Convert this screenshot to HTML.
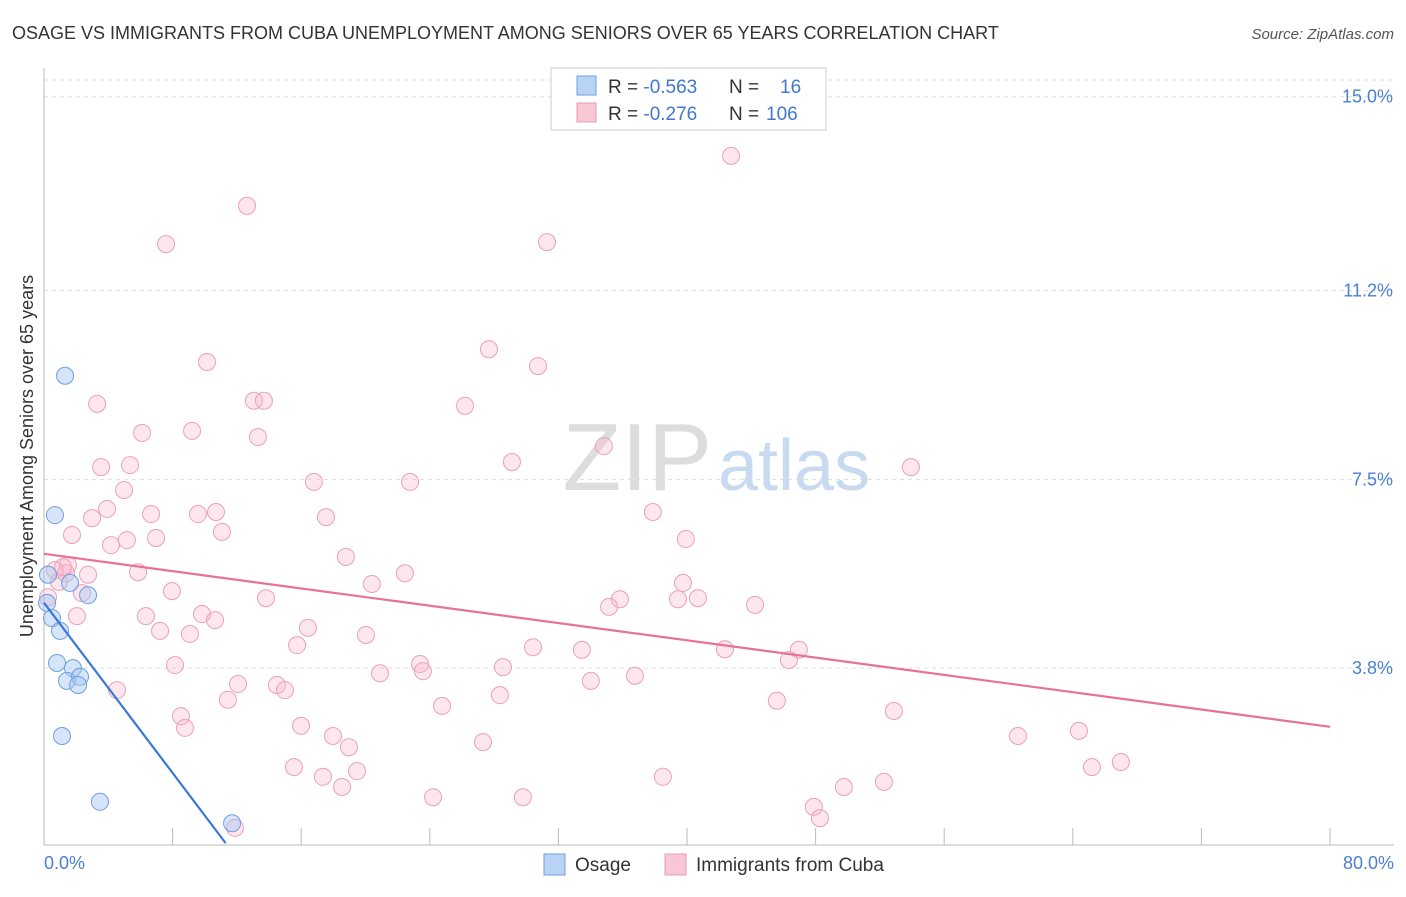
<!DOCTYPE html>
<html><head><meta charset="utf-8"><style>
body{margin:0;background:#fff;font-family:"Liberation Sans",sans-serif;}
svg text{font-family:"Liberation Sans",sans-serif;}
</style></head><body>
<svg id="chart" width="1406" height="892" viewBox="0 0 1406 892" xmlns="http://www.w3.org/2000/svg">
<text x="12" y="39" font-size="18" fill="#333">OSAGE VS IMMIGRANTS FROM CUBA UNEMPLOYMENT AMONG SENIORS OVER 65 YEARS CORRELATION CHART</text>
<text x="1394" y="39" font-size="15" fill="#555" font-style="italic" text-anchor="end">Source: ZipAtlas.com</text>
<g id="grid"></g>
<text x="712" y="490" font-size="96" fill="#ddd" text-anchor="end" font-family="Liberation Serif">ZIP</text>
<text x="718" y="490" font-size="72" fill="#c8daf0">atlas</text>
<g id="pts"></g>
<g id="lines"></g>
<text transform="translate(33,456) rotate(-90)" font-size="18" fill="#333" text-anchor="middle">Unemployment Among Seniors over 65 years</text>
<text x="44" y="869" font-size="18" fill="#4a7fd4">0.0%</text>
<text x="1394" y="869" font-size="18" fill="#4a7fd4" text-anchor="end">80.0%</text>
<g>
<rect x="551" y="68" width="275" height="62" fill="#fff" stroke="#ccc"/>
<rect x="577" y="76" width="19" height="19" fill="#b9d3f5" stroke="#6e9fde"/>
<rect x="577" y="103" width="19" height="19" fill="#f8c6d5" stroke="#e89ab4"/>
<text x="608" y="93" font-size="19" fill="#333">R = <tspan fill="#3f78d0">-0.563</tspan></text>
<text x="729" y="93" font-size="19" fill="#333">N = <tspan x="780" fill="#3f78d0">16</tspan></text>
<text x="608" y="120" font-size="19" fill="#333">R = <tspan fill="#3f78d0">-0.276</tspan></text>
<text x="729" y="120" font-size="19" fill="#333">N = <tspan x="766" fill="#3f78d0">106</tspan></text>
</g>
<g>
<rect x="544" y="854" width="21" height="21" fill="#b9d3f5" stroke="#6e9fde"/>
<text x="575" y="871" font-size="19" fill="#333">Osage</text>
<rect x="665" y="854" width="21" height="21" fill="#f8c6d5" stroke="#e89ab4"/>
<text x="696" y="871" font-size="19" fill="#333">Immigrants from Cuba</text>
</g>
</svg>
<script>
const yTicks=[15.0,11.2,7.5,3.8];
const yTickLabels=["15.0%","11.2%","7.5%","3.8%"];
const xTicks=[0,8,16,24,32,40,48,56,64,72,80];
const osageX=[0.68,1.31,0.19,0.50,1.00,1.62,2.74,0.81,1.80,1.43,2.24,2.12,1.12,3.48,11.70,0.25];
const osageY=[6.80,9.53,5.08,4.78,4.53,5.47,5.23,3.90,3.80,3.55,3.63,3.47,2.47,1.18,0.76,5.63];
const cubaX=[42.74,12.63,7.59,31.29,27.68,10.14,30.73,3.30,13.06,13.68,26.19,6.10,9.21,13.31,34.83,3.55,5.35,29.11,53.93,4.98,16.79,22.77,3.92,2.99,6.66,9.58,10.70,17.54,37.88,11.07,1.74,5.16,4.17,6.97,39.93,1.49,18.78,0.68,2.74,0.93,5.85,22.45,20.40,39.75,7.96,2.36,13.81,35.83,35.15,39.44,40.68,44.23,6.34,9.83,10.64,2.05,7.22,16.42,9.08,20.03,15.74,30.42,33.46,42.36,46.96,46.34,8.15,23.39,23.57,28.55,20.90,36.76,34.02,4.54,12.07,14.49,14.99,11.44,28.36,45.59,24.76,8.52,8.77,15.99,52.87,17.98,64.38,60.59,27.31,18.97,65.19,66.99,15.55,19.47,17.35,38.50,18.54,52.25,49.76,24.20,29.79,47.89,48.27,11.88,0.25,1.37,1.18];
const cubaY=[13.84,12.86,12.11,12.15,10.05,9.80,9.72,8.98,9.04,9.04,8.94,8.41,8.45,8.33,8.15,7.74,7.78,7.84,7.74,7.29,7.45,7.45,6.92,6.74,6.82,6.82,6.86,6.76,6.86,6.47,6.41,6.31,6.21,6.35,6.33,5.82,5.98,5.72,5.63,5.49,5.68,5.66,5.45,5.47,5.31,5.27,5.17,5.15,5.00,5.15,5.17,5.04,4.82,4.86,4.74,4.82,4.53,4.59,4.47,4.45,4.25,4.21,4.16,4.17,4.16,3.96,3.86,3.88,3.74,3.82,3.70,3.65,3.55,3.37,3.49,3.47,3.37,3.18,3.27,3.16,3.06,2.86,2.63,2.67,2.96,2.47,2.57,2.47,2.35,2.25,1.86,1.96,1.86,1.78,1.67,1.67,1.47,1.57,1.47,1.27,1.27,1.08,0.86,0.67,5.19,5.66,5.78];
const osageTrendX=[0,11.3];
const osageTrendY=[5.08,0.37];
const cubaTrendX=[0,80];
const cubaTrendY=[6.04,2.65];
const NS="http://www.w3.org/2000/svg";
const sx=v=>44+v*(1286/80);
const sy=v=>862-v*51.02;
function mk(tag,attrs,parent){const e=document.createElementNS(NS,tag);for(const k in attrs)e.setAttribute(k,attrs[k]);parent.appendChild(e);return e;}
const grid=document.getElementById('grid');
let e;
e=mk('line',{x1:44,x2:1394,y1:80,y2:80,stroke:'#ddd','stroke-dasharray':'4,4'},grid);


yTicks.forEach((t,i)=>{
 e=mk('line',{x1:44,x2:1394,y1:sy(t),y2:sy(t),stroke:'#ddd','stroke-dasharray':'4,4'},grid);
 
 
 e=mk('text',{x:1393,y:sy(t)+6,'font-size':18,fill:'#4a7fd4','text-anchor':'end'},grid);
 e.textContent=yTickLabels[i];
 
 
});
e=mk('line',{x1:44,x2:44,y1:68,y2:845,stroke:'#bbb'},grid);


e=mk('line',{x1:44,x2:1394,y1:845,y2:845,stroke:'#bbb'},grid);


xTicks.forEach(t=>{
 e=mk('line',{x1:sx(t),x2:sx(t),y1:845,y2:828,stroke:'#bbb'},grid);
 
 
});
const pts=document.getElementById('pts');
cubaX.forEach((x,i)=>{
 e=mk('circle',{cx:sx(x),cy:sy(cubaY[i]),r:8.5,fill:'rgba(248,182,202,0.35)',stroke:'#eaa0ba','stroke-width':1},pts);
 
 
});
osageX.forEach((x,i)=>{
 e=mk('circle',{cx:sx(x),cy:sy(osageY[i]),r:8.5,fill:'rgba(165,198,242,0.45)',stroke:'#6e9fde','stroke-width':1},pts);
 
 
});
const lines=document.getElementById('lines');
e=mk('line',{x1:sx(cubaTrendX[0]),y1:sy(cubaTrendY[0]),x2:sx(cubaTrendX[1]),y2:sy(cubaTrendY[1]),stroke:'#e8719b','stroke-width':2.2},lines);


e=mk('line',{x1:sx(osageTrendX[0]),y1:sy(osageTrendY[0]),x2:sx(osageTrendX[1]),y2:sy(osageTrendY[1]),stroke:'#3a78d8','stroke-width':2.2},lines);


</script>
</body></html>
